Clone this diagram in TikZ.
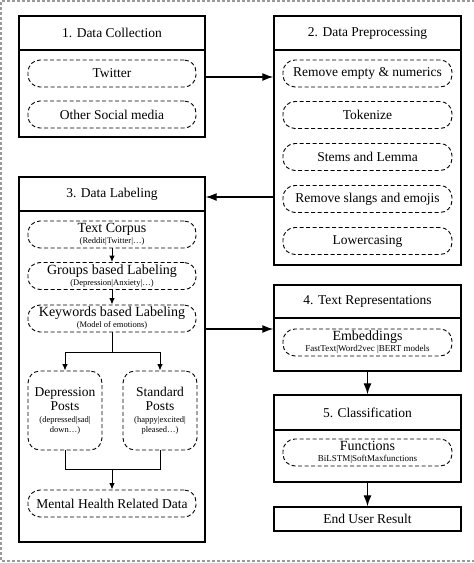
\documentclass[tikz,border=0pt]{standalone}
\usepackage{fontspec}
\setmainfont{Liberation Serif}
\usetikzlibrary{arrows.meta,calc}
\newcommand{\bigf}{\fontsize{13.5}{15}\selectfont}
\newcommand{\subf}{\fontsize{8.5}{9}\selectfont}
\begin{document}
\begin{tikzpicture}[x=1pt,y=-1pt,
 box/.style={draw,line width=1.4pt,minimum width=186pt,inner sep=0pt,font=\bigf},
 pill/.style={draw,dash pattern=on 4pt off 2.5pt,line width=0.9pt,rounded corners=12pt,minimum width=168pt,minimum height=27pt,inner sep=0pt,align=center,font=\bigf},
 post/.style={pill,minimum width=74pt,minimum height=79pt},
 arr/.style={line width=1.3pt,-{Latex[length=11pt,width=8pt]}},
 sarr/.style={line width=1pt,-{Latex[length=6.5pt,width=5.5pt]}},
 sline/.style={line width=1pt},
 outer/.style={draw=black!40,line width=1.8pt,dash pattern=on 3pt off 2pt}
 ]
\useasboundingbox (0,0) rectangle (474,563);
\draw[outer] (480,1) -- (1,1) -- (1,561) -- (480,561);

% Box 1
\node[box,minimum height=34pt] (h1) at (112,33) {1. Data Collection};
\node[box,minimum height=87pt] (b1) at (112,93.5) {};
\node[pill] (tw) at (112,73.5) {Twitter};
\node[pill] (os) at (112,114.5) {Other Social media};

% Box 2
\node[box,minimum width=187pt,minimum height=34pt] (h2) at (367.5,33) {2. Data Preprocessing};
\node[box,minimum width=187pt,minimum height=215pt] (b2) at (367.5,157.5) {};
\node[pill,minimum width=169pt] (p1) at (367.5,73.5) {Remove empty \& numerics};
\node[pill,minimum width=169pt] (p2) at (367.5,115) {Tokenize};
\node[pill,minimum width=169pt] (p3) at (367.5,157) {Stems and Lemma};
\node[pill,minimum width=169pt] (p4) at (367.5,199) {Remove slangs and emojis};
\node[pill,minimum width=169pt] (p5) at (367.5,241) {Lowercasing};

% Box 3
\node[box,minimum height=34pt] (h3) at (112,194) {3. Data Labeling};
\node[box,minimum height=331pt] (b3) at (112,376.5) {};
\node[pill] (tc) at (112,234.5) {\fontsize{14}{14}\selectfont Text Corpus\\[-4pt]{\subf (Reddit|Twitter|\ldots)}};
\node[pill] (gb) at (112,276) {\fontsize{14}{14}\selectfont Groups based Labeling\\[-4pt]{\subf (Depression|Anxiety|\ldots)}};
\node[pill] (kw) at (112,318.5) {\fontsize{14}{14}\selectfont Keywords based Labeling\\[-4pt]{\subf (Model of emotions)}};
\node[post] (dep) at (65,410.5) {Depression\\[-1pt]Posts\\[-3pt]{\subf (depressed|sad|}\\[-5pt]{\subf down\ldots)}};
\node[post] (std) at (160,410.5) {Standard\\[-1pt]Posts\\[-3pt]{\subf (happy|excited|}\\[-5pt]{\subf pleased\ldots)}};
\node[pill] (mh) at (112,503.5) {Mental Health Related Data};
\coordinate (sp) at (112,352);
\coordinate (mg) at (112,469);

% Box 4
\node[box,minimum width=187pt,minimum height=33pt] (h4) at (367.5,301.5) {4. Text Representations};
\node[box,minimum width=187pt,minimum height=53pt] (b4) at (367.5,344.5) {};
\node[pill,minimum width=169pt] (em) at (367.5,342.5) {\fontsize{14}{14}\selectfont Embeddings\\[-4pt]{\fontsize{9}{9}\selectfont FastText|Word2vec |BERT models}};

% Box 5
\node[box,minimum width=187pt,minimum height=35pt] (h5) at (367.5,412.5) {5. Classification};
\node[box,minimum width=187pt,minimum height=52pt] (b5) at (367.5,456) {};
\node[pill,minimum width=169pt] (fn) at (367.5,452.5) {\fontsize{14}{14}\selectfont Functions\\[-4pt]{\fontsize{9}{9}\selectfont BiLSTM|SoftMaxfunctions}};

\node[box,minimum width=187pt,minimum height=24pt] (eu) at (367.5,519) {End User Result};

% connectors
\coordinate (a12) at (240,77);
\coordinate (a23) at (240,197);
\coordinate (a34) at (240,329);
\draw[arr] (b1.east |- a12) -- (b2.west |- a12);
\draw[arr] (b2.west |- a23) -- (h3.east |- a23);
\draw[arr] (b3.east |- a34) -- (b4.west |- a34);
\draw[arr] (b4.south) -- (h5.north);
\draw[arr] (b5.south) -- (eu.north);

\draw[sarr] (tc.south) -- (gb.north);
\draw[sarr] (gb.south) -- (kw.north);
\draw[sline] (kw.south) -- (sp);
\draw[sarr] (sp) -| (dep.north);
\draw[sarr] (sp) -| (std.north);
\draw[sline] (dep.south) |- (mg);
\draw[sline] (std.south) |- (mg);
\draw[sarr] (mg) -- (mh.north);
\end{tikzpicture}
\end{document}
